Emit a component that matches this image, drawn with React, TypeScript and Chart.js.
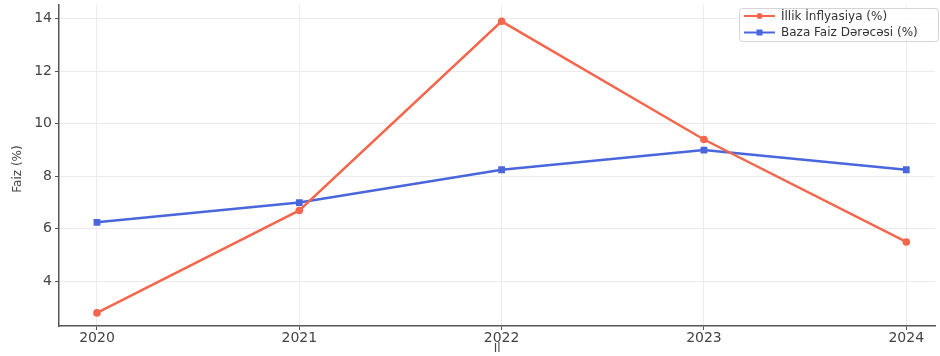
import React, { useEffect, useRef } from "react";
import { Chart, registerables } from "chart.js";

Chart.register(...registerables);

const years = [2020, 2021, 2022, 2023, 2024];
const inflation = [2.8, 6.7, 13.9, 9.4, 5.5];
const baseRate = [6.25, 7.0, 8.25, 9.0, 8.25];
const yTicks = [4, 6, 8, 10, 12, 14];
const seriesLabels = ["İllik İnflyasiya (%)", "Baza Faiz Dərəcəsi (%)"];
const xTitle = "Il";
const yTitle = "Faiz (%)";

const RED = "#f4674c";
const BLUE = "#4a66dd";
const FONT = "'DejaVu Sans', sans-serif";

const overlayPlugin = {
  id: "boxLegend",
  afterDraw(chart: any) {
    const ctx = chart.ctx;
    const ds = chart.data.datasets;
    ctx.save();
    ctx.translate(18, 169);
    ctx.rotate(-Math.PI / 2);
    ctx.fillStyle = "#444";
    ctx.font = `12px ${FONT}`;
    ctx.textAlign = "center";
    ctx.textBaseline = "middle";
    ctx.fillText(yTitle, 0, 0);
    ctx.restore();

    ctx.save();
    const bx = 739, by = 8, bw = 199, bh = 33;
    ctx.beginPath();
    ctx.roundRect(bx + 0.5, by + 0.5, bw, bh, 3);
    ctx.fillStyle = "rgba(255,255,255,0.85)";
    ctx.fill();
    ctx.strokeStyle = "#d4d4d4";
    ctx.lineWidth = 1;
    ctx.stroke();
    ds.forEach((d: any, i: number) => {
      const y = 16 + i * 16.5;
      ctx.strokeStyle = d.borderColor;
      ctx.lineWidth = 2;
      ctx.beginPath();
      ctx.moveTo(744, y);
      ctx.lineTo(775, y);
      ctx.stroke();
      ctx.fillStyle = d.borderColor;
      if (d.pointStyle === "rect") {
        ctx.fillRect(759.5 - 3, y - 3, 6, 6);
      } else {
        ctx.beginPath();
        ctx.arc(759.5, y, 3, 0, Math.PI * 2);
        ctx.fill();
      }
      ctx.fillStyle = "#333";
      ctx.font = `12px ${FONT}`;
      ctx.textBaseline = "middle";
      ctx.textAlign = "left";
      ctx.fillText(d.label, 781, y + 0.5);
    });
    ctx.restore();
  },
};

export default function App() {
  const ref = useRef<HTMLCanvasElement>(null);
  useEffect(() => {
    if (!ref.current) return;
    const chart = new Chart(ref.current, {
      type: "line",
      data: {
        datasets: [
          {
            label: seriesLabels[0],
            data: years.map((y, i) => ({ x: y, y: inflation[i] })),
            borderColor: RED,
            backgroundColor: RED,
            borderWidth: 2.5,
            pointStyle: "circle",
            pointRadius: 3.8,
            pointBorderWidth: 0,
          },
          {
            label: seriesLabels[1],
            data: years.map((y, i) => ({ x: y, y: baseRate[i] })),
            borderColor: BLUE,
            backgroundColor: BLUE,
            borderWidth: 2.5,
            pointStyle: "rect",
            pointRadius: 4.8,
            pointBorderWidth: 0,
          },
        ],
      },
      options: {
        animation: false,
        responsive: false,
        devicePixelRatio: 1,
        layout: { padding: { top: 2, left: 0, right: 0, bottom: 0 } },
        plugins: { legend: { display: false }, tooltip: { enabled: false } },
        scales: {
          x: {
            type: "linear",
            min: 2019.8123,
            max: 2024.143,
            afterFit: (s: any) => {
              s.height = 30;
              s.paddingLeft = 0;
              s.paddingRight = 0;
            },
            afterBuildTicks: (s: any) => { s.ticks = years.map((v) => ({ value: v })); },
            ticks: {
              callback: (v: any) => String(v),
              color: "#444",
              font: { family: FONT, size: 14 },
              padding: 0,
              maxRotation: 0,
            },
            grid: { color: "#ebebeb", tickColor: "#555", tickLength: 4, lineWidth: 1 },
            border: { color: "#555", width: 1.5 },
            title: {
              display: true,
              text: xTitle,
              color: "#444",
              font: { family: FONT, size: 12 },
              padding: { top: 0, bottom: 0 },
            },
          },
          y: {
            type: "linear",
            min: 2.302,
            max: 14.528,
            afterFit: (s: any) => {
              s.width = 59;
              s.paddingTop = 0;
              s.paddingBottom = 0;
            },
            afterBuildTicks: (s: any) => { s.ticks = yTicks.map((v) => ({ value: v })); },
            ticks: {
              color: "#444",
              font: { family: FONT, size: 14 },
              padding: 3,
            },
            grid: { color: "#ebebeb", tickColor: "#555", tickLength: 4, lineWidth: 1 },
            border: { color: "#555", width: 1.5 },
            title: { display: false, text: yTitle },
          },
        },
      },
      plugins: [overlayPlugin],
    } as any);
    return () => chart.destroy();
  }, []);
  return (
    <div style={{ position: "fixed", left: 0, top: 0, width: 940, height: 356, background: "#fff" }}>
      <canvas ref={ref} width={940} height={356} style={{ width: 940, height: 356, display: "block" }} />
    </div>
  );
}
